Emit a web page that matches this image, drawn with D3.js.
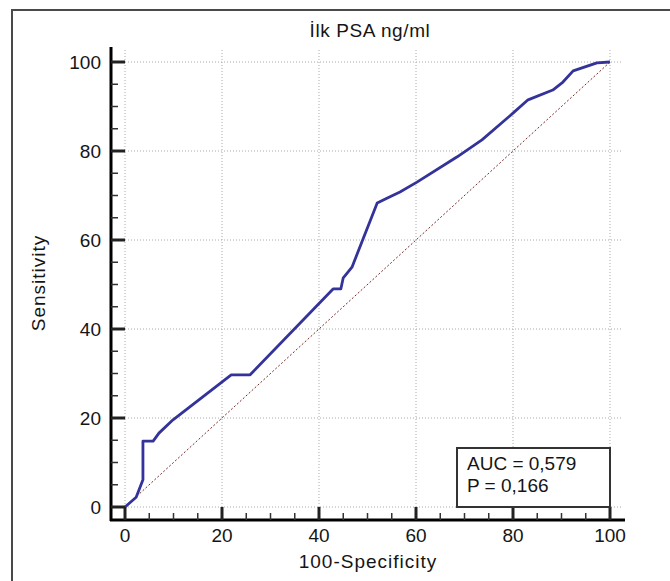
<!DOCTYPE html>
<html>
<head>
<meta charset="utf-8">
<script src="https://cdn.jsdelivr.net/npm/d3@7"></script>
<style>
	body { margin: 0; background: #fff; }
	svg text { font-family: "Liberation Sans", Arial, sans-serif; fill: #151515; }
</style>
</head>
<body>
<svg id="chart" width="670" height="581"></svg>
<script>
// ROC curve points: [100-specificity, sensitivity]
const rocX = [0, 2.3, 3.7, 3.7, 5.8, 7, 9.9, 21.9, 25.8, 42.9, 44.5, 45, 46.8, 52, 54, 56.7, 60.2, 68.5, 73.6, 80, 83.1, 88.2, 90.3, 92.4, 97.3, 100];
const rocY = [0, 2.2, 6.1, 14.8, 14.8, 16.6, 19.6, 29.7, 29.7, 49, 49, 51.5, 53.9, 68.3, 69.4, 70.8, 73, 78.7, 82.5, 88.5, 91.5, 93.7, 95.5, 98, 99.8, 100];
const majorTicks = [0, 20, 40, 60, 80, 100];
const minorTicks = d3.range(0, 101, 5).filter(d => d % 20 !== 0);
const titleText = "İlk PSA ng/ml";
const statLines = ["AUC = 0,579", "P = 0,166"];

const svg = d3.select("svg#chart");

const x = d3.scaleLinear().domain([0, 100]).range([125, 610]);
const y = d3.scaleLinear().domain([0, 100]).range([507, 62]);

const X_AXIS_Y = 520;
const Y_AXIS_X = 111;

// outer frame
svg.append("path")
	.attr("d", "M12,581 V10 H670")
	.attr("fill", "none")
	.attr("stroke", "#4a4a4a")
	.attr("stroke-width", 2)
	;

// grid
svg.selectAll(".vgrid")
	.data(majorTicks)
	.enter().append("line")
	.attr("class", "vgrid")
	.attr("x1", d => x(d)).attr("x2", d => x(d))
	.attr("y1", 50).attr("y2", y(0))
	.attr("stroke", "#aaa")
	.attr("stroke-dasharray", "1,2")
	;
svg.selectAll(".hgrid")
	.data(majorTicks)
	.enter().append("line")
	.attr("class", "hgrid")
	.attr("x1", x(0)).attr("x2", 622)
	.attr("y1", d => y(d)).attr("y2", d => y(d))
	.attr("stroke", "#aaa")
	.attr("stroke-dasharray", "1,2")
	;

// diagonal reference line
svg.append("line")
	.attr("x1", x(0)).attr("y1", y(0))
	.attr("x2", x(100)).attr("y2", y(100))
	.attr("stroke", "#7a2a2a")
	.attr("stroke-width", 1)
	.attr("stroke-dasharray", "2,2")
	;

// roc curve
const rocData = rocX.map((d, i) => [d, rocY[i]]);
svg.append("path")
	.datum(rocData)
	.attr("d", d3.line().x(d => x(d[0])).y(d => y(d[1])))
	.attr("fill", "none")
	.attr("stroke", "#33339a")
	.attr("stroke-width", 2.8)
	.attr("stroke-linejoin", "round")
	;

// y axis
svg.append("line")
	.attr("x1", Y_AXIS_X).attr("x2", Y_AXIS_X)
	.attr("y1", 47).attr("y2", X_AXIS_Y + 1)
	.attr("stroke", "#000")
	.attr("stroke-width", 3)
	;
svg.selectAll(".ymajor")
	.data(majorTicks)
	.enter().append("line")
	.attr("x1", Y_AXIS_X).attr("x2", x(0))
	.attr("y1", d => y(d)).attr("y2", d => y(d))
	.attr("stroke", "#222")
	.attr("stroke-width", 3)
	;
svg.selectAll(".yminor")
	.data(minorTicks)
	.enter().append("line")
	.attr("x1", Y_AXIS_X).attr("x2", Y_AXIS_X + 7)
	.attr("y1", d => y(d)).attr("y2", d => y(d))
	.attr("stroke", "#333")
	.attr("stroke-width", 1.5)
	;
svg.selectAll(".ylabel")
	.data(majorTicks)
	.enter().append("text")
	.text(d => d)
	.attr("x", Y_AXIS_X - 10)
	.attr("y", d => y(d) + 7)
	.attr("text-anchor", "end")
	.attr("font-size", 19)
	;

// x axis
svg.append("line")
	.attr("x1", Y_AXIS_X - 1).attr("x2", 625)
	.attr("y1", X_AXIS_Y).attr("y2", X_AXIS_Y)
	.attr("stroke", "#000")
	.attr("stroke-width", 3)
	;
svg.selectAll(".xmajor")
	.data(majorTicks)
	.enter().append("line")
	.attr("x1", d => x(d)).attr("x2", d => x(d))
	.attr("y1", X_AXIS_Y).attr("y2", y(0))
	.attr("stroke", "#222")
	.attr("stroke-width", 3)
	;
svg.selectAll(".xminor")
	.data(minorTicks)
	.enter().append("line")
	.attr("x1", d => x(d)).attr("x2", d => x(d))
	.attr("y1", X_AXIS_Y).attr("y2", X_AXIS_Y - 7)
	.attr("stroke", "#333")
	.attr("stroke-width", 1.5)
	;
svg.selectAll(".xlabel")
	.data(majorTicks)
	.enter().append("text")
	.text(d => d)
	.attr("x", d => x(d))
	.attr("y", X_AXIS_Y + 22)
	.attr("text-anchor", "middle")
	.attr("font-size", 19)
	;

// titles
svg.append("text")
	.text(titleText)
	.attr("x", 370)
	.attr("y", 37)
	.attr("text-anchor", "middle")
	.attr("font-size", 19)
	.attr("letter-spacing", 0.6)
	;
svg.append("text")
	.text("100-Specificity")
	.attr("x", 368)
	.attr("y", 568)
	.attr("text-anchor", "middle")
	.attr("font-size", 19)
	.attr("letter-spacing", 1)
	;
svg.append("text")
	.text("Sensitivity")
	.attr("transform", "translate(45,283) rotate(-90)")
	.attr("text-anchor", "middle")
	.attr("font-size", 19)
	.attr("letter-spacing", 1)
	;

// AUC box
svg.append("rect")
	.attr("x", 457)
	.attr("y", 448)
	.attr("width", 153)
	.attr("height", 59)
	.attr("fill", "#fff")
	.attr("stroke", "#333")
	.attr("stroke-width", 2)
	;
svg.selectAll(".stat")
	.data(statLines)
	.enter().append("text")
	.text(d => d)
	.attr("x", 467)
	.attr("y", (d, i) => 470 + i * 22)
	.attr("font-size", 19)
	;
</script>
</body>
</html>
